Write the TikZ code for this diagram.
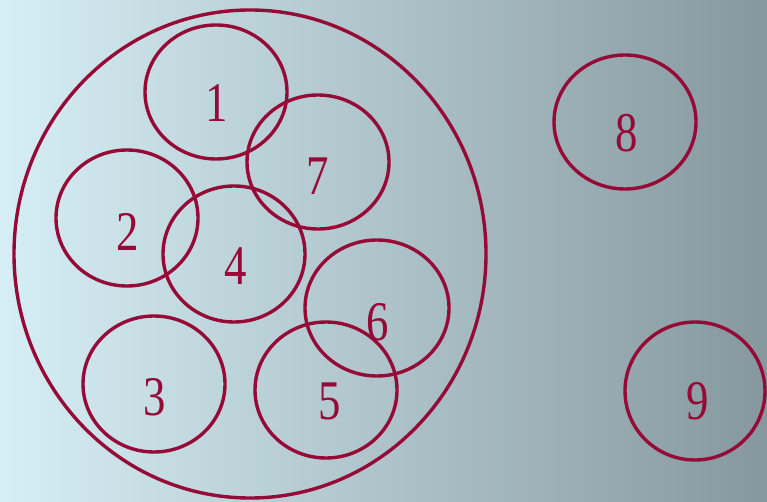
\documentclass[tikz,border=0pt]{standalone}
\usepackage{fontspec}
\setmainfont{Liberation Serif}
\definecolor{crim}{RGB}{150,10,55}
\definecolor{bgl}{RGB}{214,238,245}
\definecolor{bgr}{RGB}{134,152,158}
\begin{document}
\begin{tikzpicture}[x=1pt,y=-1pt,
  ring/.style={draw=crim,line width=3.4pt},
  num/.style={text=crim,font=\fontsize{56}{56}\selectfont,xscale=0.8,inner sep=0pt}]
\shade[left color=bgl,right color=bgr] (0,0) rectangle (767,502);
\useasboundingbox (0,0) rectangle (767,502);
\draw[ring] (250,254) ellipse [x radius=236,y radius=244];
\draw[ring] (216,92) ellipse [x radius=71,y radius=67];
\draw[ring] (318,162) ellipse [x radius=71,y radius=67];
\draw[ring] (127,218) ellipse [x radius=71,y radius=68];
\draw[ring] (234,254) ellipse [x radius=71,y radius=68];
\draw[ring] (377,308) ellipse [x radius=72,y radius=68];
\draw[ring] (154,384) ellipse [x radius=71,y radius=68];
\draw[ring] (326,390) ellipse [x radius=71,y radius=68];
\draw[ring] (625,122) ellipse [x radius=71,y radius=67];
\draw[ring] (695,391) ellipse [x radius=70,y radius=69];
\node[num] (n1) at (217,103) {1};
\node[num] (n7) at (318,176) {7};
\node[num] (n2) at (128,232) {2};
\node[num] (n4) at (236,266) {4};
\node[num] (n6) at (378,322) {6};
\node[num] (n3) at (155,397) {3};
\node[num] (n5) at (330,401) {5};
\node[num] (n8) at (627,133) {8};
\node[num] (n9) at (698,401) {9};
\end{tikzpicture}
\end{document}
